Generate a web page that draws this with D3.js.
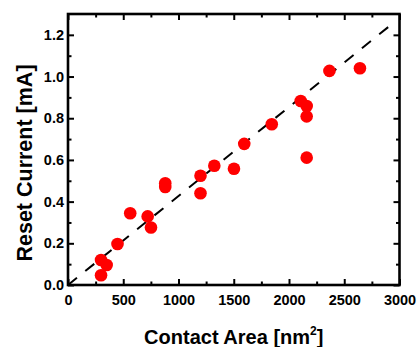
<!DOCTYPE html>
<html>
<head>
<meta charset="utf-8">
<script src="https://cdn.jsdelivr.net/npm/d3@7"></script>
<style>
    body { margin: 0; background: #fff; }
    text { font-family: "Liberation Sans", Arial, sans-serif; font-weight: bold; fill: #000; }
</style>
</head>
<body>
<div id="chart"></div>
<script>
// measured points (contact area in nm^2, reset current in mA)
const contactArea = [299, 350, 299, 448, 563, 721, 751, 880, 880, 1199, 1199,
    1324, 1502, 1595, 1844, 2106, 2160, 2160, 2160, 2366, 2642];
const resetCurrent = [0.120, 0.096, 0.047, 0.197, 0.344, 0.329, 0.276, 0.488, 0.470, 0.524, 0.440,
    0.572, 0.558, 0.677, 0.771, 0.883, 0.859, 0.809, 0.611, 1.027, 1.040];

// guide line through the origin
const fitX = [0, 2930];
const fitY = [0, 1.251];

const xTicks = [0, 500, 1000, 1500, 2000, 2500, 3000];
const xMinor = [250, 750, 1250, 1750, 2250, 2750];
const yTicks = [0.0, 0.2, 0.4, 0.6, 0.8, 1.0, 1.2];
const yMinor = [0.1, 0.3, 0.5, 0.7, 0.9, 1.1];

const width = 417;
const height = 347;
const margin = { top: 14, right: 17.5, bottom: 62, left: 68 };

const svg = d3.select("#chart")
    .append("svg")
    .attr("width", width)
    .attr("height", height);

const x = d3.scaleLinear().domain([0, 3000]).range([margin.left, width - margin.right]);
const y = d3.scaleLinear().domain([0, 1.3]).range([height - margin.bottom, margin.top]);

const x0 = x.range()[0], x1 = x.range()[1];
const y0 = y.range()[0], y1 = y.range()[1];

// ticks, all pointing inside the frame
function addAxis(axis, tx, ty, cls) {
    const g = svg.append("g")
        .attr("class", cls)
        .attr("transform", "translate(" + tx + "," + ty + ")")
        .call(axis);
    g.select(".domain").remove();
    g.selectAll("line").attr("stroke", "#000").attr("stroke-width", 2);
    g.selectAll("text").attr("font-size", "14.5px").attr("font-family", null);
    return g;
}

addAxis(d3.axisBottom(x).tickValues(xTicks).tickSizeInner(-6).tickSizeOuter(0).tickPadding(10).tickFormat(d3.format("d")), 0, y0, "x-axis");
addAxis(d3.axisBottom(x).tickValues(xMinor).tickSizeInner(-3.5).tickSizeOuter(0).tickFormat(""), 0, y0, "x-minor");
addAxis(d3.axisTop(x).tickValues(xTicks).tickSizeInner(-6).tickSizeOuter(0).tickFormat(""), 0, y1, "x-top");
addAxis(d3.axisTop(x).tickValues(xMinor).tickSizeInner(-3.5).tickSizeOuter(0).tickFormat(""), 0, y1, "x-top-minor");

addAxis(d3.axisLeft(y).tickValues(yTicks).tickSizeInner(-6).tickSizeOuter(0).tickPadding(4).tickFormat(d3.format(".1f")), x0, 0, "y-axis");
addAxis(d3.axisLeft(y).tickValues(yMinor).tickSizeInner(-3.5).tickSizeOuter(0).tickFormat(""), x0, 0, "y-minor");
addAxis(d3.axisRight(y).tickValues(yTicks).tickSizeInner(-6).tickSizeOuter(0).tickFormat(""), x1, 0, "y-right");
addAxis(d3.axisRight(y).tickValues(yMinor).tickSizeInner(-3.5).tickSizeOuter(0).tickFormat(""), x1, 0, "y-right-minor");

// frame
svg.append("rect")
    .attr("x", x0)
    .attr("y", y1)
    .attr("width", x1 - x0)
    .attr("height", y0 - y1)
    .attr("fill", "none")
    .attr("stroke", "#000")
    .attr("stroke-width", 2.6);

// dashed guide line
const line = d3.line()
    .x((d, i) => x(fitX[i]))
    .y((d, i) => y(fitY[i]));

svg.append("path")
    .attr("d", line(fitX))
    .attr("fill", "none")
    .attr("stroke", "#000")
    .attr("stroke-width", 2)
    .attr("stroke-dasharray", "11.5,10.7");

// points
svg.append("g")
    .selectAll("circle")
    .data(contactArea)
    .enter()
    .append("circle")
    .attr("cx", (d) => x(d))
    .attr("cy", (d, i) => y(resetCurrent[i]))
    .attr("r", 6.3)
    .attr("fill", "#ff0000");

// axis titles
const xTitle = svg.append("text")
    .attr("x", (x0 + x1) / 2)
    .attr("y", 344)
    .attr("text-anchor", "middle")
    .attr("font-size", "20px");
xTitle.append("tspan").text("Contact Area [nm");
xTitle.append("tspan").attr("font-size", "12px").attr("dy", -9).text("2");
xTitle.append("tspan").attr("dy", 9).text("]");

svg.append("text")
    .attr("transform", "translate(31.5,163) rotate(-90)")
    .attr("text-anchor", "middle")
    .attr("font-size", "21.5px")
    .text("Reset Current [mA]");
</script>
</body>
</html>
